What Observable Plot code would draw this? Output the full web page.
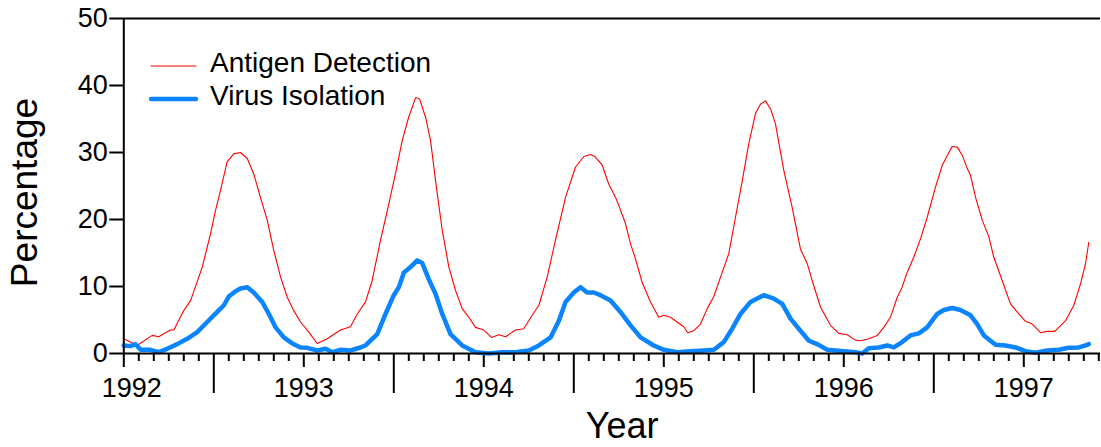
<!DOCTYPE html>
<html>
<head>
<meta charset="utf-8">
<script src="https://cdn.jsdelivr.net/npm/d3@7"></script>
<script src="https://cdn.jsdelivr.net/npm/@observablehq/plot@0.6"></script>
<style>
  html, body { margin: 0; padding: 0; background: #fff; }
  #wrap { position: relative; width: 1101px; height: 447px; overflow: hidden; }
  #legend { position: absolute; left: 0; top: 0; pointer-events: none; }
</style>
</head>
<body>
<div id="wrap"></div>
<script>
// ---- data ----
const yearLabels = [1992, 1993, 1994, 1995, 1996, 1997];
const yTicks = [0, 10, 20, 30, 40, 50];
const seriesNames = ["Antigen Detection", "Virus Isolation"];

const antigenYear = [1992.000,1992.074,1992.158,1992.194,1992.259,1992.278,1992.333,1992.371,1992.436,1992.482,1992.509,1992.537,1992.574,1992.611,1992.648,1992.686,1992.722,1992.759,1992.797,1992.833,1992.871,1992.908,1992.944,1992.982,1993.028,1993.074,1993.130,1993.204,1993.259,1993.297,1993.343,1993.380,1993.426,1993.472,1993.509,1993.547,1993.583,1993.621,1993.643,1993.676,1993.704,1993.732,1993.769,1993.806,1993.843,1993.880,1993.917,1993.954,1994.000,1994.043,1994.083,1994.121,1994.176,1994.222,1994.269,1994.306,1994.352,1994.398,1994.454,1994.509,1994.556,1994.593,1994.617,1994.658,1994.694,1994.732,1994.750,1994.787,1994.815,1994.843,1994.880,1994.926,1994.972,1995.000,1995.037,1995.074,1995.111,1995.133,1995.167,1995.204,1995.241,1995.278,1995.315,1995.361,1995.398,1995.436,1995.472,1995.509,1995.537,1995.565,1995.593,1995.620,1995.667,1995.713,1995.759,1995.797,1995.824,1995.871,1995.926,1995.972,1996.019,1996.065,1996.093,1996.139,1996.186,1996.222,1996.259,1996.297,1996.324,1996.352,1996.389,1996.426,1996.463,1996.509,1996.547,1996.580,1996.602,1996.630,1996.658,1996.686,1996.704,1996.732,1996.769,1996.806,1996.833,1996.880,1996.926,1996.963,1997.009,1997.047,1997.093,1997.130,1997.172,1997.232,1997.278,1997.315,1997.343,1997.361];
const antigenPct = [2.2,1.2,2.7,2.5,3.5,3.5,6.4,7.9,12.9,17.9,21.3,24.3,28.6,29.8,30.0,29.1,26.8,23.3,19.9,15.4,11.4,8.4,6.4,4.7,3.2,1.5,2.2,3.5,4.0,5.9,7.7,10.9,16.9,22.3,26.8,31.8,35.3,38.2,38.0,35.3,31.8,25.8,18.4,12.9,9.4,6.7,5.4,3.9,3.5,2.4,2.8,2.5,3.5,3.7,5.7,7.2,11.4,16.9,23.3,27.8,29.4,29.7,29.4,28.1,25.3,23.3,22.1,19.4,16.4,14.1,10.6,7.7,5.4,5.7,5.4,4.7,4.0,3.1,3.4,4.4,6.7,8.5,11.4,14.9,20.3,25.8,31.3,35.8,37.2,37.7,36.5,34.3,27.3,21.8,15.6,13.4,10.9,6.9,4.2,3.0,2.8,2.0,1.9,2.2,2.7,3.9,5.4,8.4,9.9,12.1,14.4,17.1,20.3,24.8,28.1,29.8,30.9,30.8,29.6,27.6,26.6,23.3,19.9,17.4,14.4,10.9,7.4,6.2,4.8,4.4,3.1,3.3,3.3,4.9,7.2,10.4,13.4,16.6];

const virusYear = [1992.000,1992.037,1992.065,1992.093,1992.148,1992.194,1992.241,1992.297,1992.352,1992.408,1992.463,1992.519,1992.556,1992.583,1992.621,1992.648,1992.686,1992.722,1992.769,1992.806,1992.843,1992.889,1992.936,1992.982,1993.019,1993.074,1993.121,1993.158,1993.204,1993.259,1993.315,1993.343,1993.408,1993.454,1993.500,1993.528,1993.556,1993.593,1993.630,1993.658,1993.694,1993.732,1993.769,1993.815,1993.880,1993.954,1994.028,1994.102,1994.176,1994.250,1994.306,1994.371,1994.417,1994.454,1994.500,1994.537,1994.574,1994.611,1994.648,1994.704,1994.759,1994.815,1994.871,1994.944,1995.000,1995.074,1995.148,1995.222,1995.278,1995.333,1995.380,1995.426,1995.482,1995.519,1995.556,1995.611,1995.658,1995.704,1995.759,1995.806,1995.852,1995.908,1996.000,1996.065,1996.102,1996.139,1996.194,1996.241,1996.278,1996.324,1996.370,1996.417,1996.463,1996.519,1996.556,1996.602,1996.648,1996.704,1996.741,1996.778,1996.843,1996.898,1996.954,1997.009,1997.065,1997.130,1997.194,1997.250,1997.306,1997.343,1997.361];
const virusPct = [1.2,1.1,1.4,0.55,0.55,0.2,0.7,1.4,2.2,3.2,4.7,6.2,7.2,8.5,9.3,9.7,9.9,9.1,7.7,5.9,3.9,2.4,1.5,0.9,0.85,0.45,0.7,0.2,0.55,0.45,0.9,1.2,2.9,5.9,8.7,9.9,12.1,12.9,13.9,13.5,11.1,8.9,5.9,2.9,1.2,0.2,0.0,0.2,0.2,0.45,1.2,2.4,4.9,7.7,9.1,9.9,9.1,9.1,8.7,7.9,6.2,4.2,2.4,1.2,0.55,0.2,0.35,0.45,0.55,1.7,3.7,5.9,7.7,8.2,8.7,8.2,7.4,5.2,3.4,1.9,1.4,0.55,0.35,0.2,0.0,0.8,0.9,1.2,0.9,1.7,2.7,3.0,3.9,5.9,6.5,6.8,6.5,5.7,4.4,2.7,1.3,1.2,0.9,0.35,0.1,0.45,0.55,0.85,0.9,1.2,1.4];

const redColor = "#ff0000";
const blueColor = "#0a84ff";

const antigen = antigenYear.map((t, i) => ({t, v: antigenPct[i]}));
const virus = virusYear.map((t, i) => ({t, v: virusPct[i]}));

// axis tick sets
const xMax = 1992 + (1100 - 123.3) / 180;
const monthTicks = d3.range(1, 66).filter(k => k % 6 !== 0).map(k => 1992 + k / 12);
const midYearTicks = yearLabels.slice(0, 5).map(y => y + 0.5);

const font = "'Liberation Sans', Arial, Helvetica, sans-serif";
const noLabel = () => "";

const chart = Plot.plot({
  width: 1101,
  height: 447,
  marginLeft: 123.3,
  marginRight: 1,
  marginTop: 18,
  marginBottom: 94,
  style: {fontFamily: font, fontSize: "27px", color: "#000", background: "#fff", overflow: "visible"},
  x: {type: "linear", domain: [1992, xMax], axis: null},
  y: {domain: [0, 50], axis: null},
  marks: [
    Plot.axisY(yTicks, {tickSize: 14, tickPadding: 2, strokeWidth: 2, fontSize: 27, label: null, tickFormat: d => String(d)}),
    Plot.axisX(monthTicks, {tickSize: 8, strokeWidth: 2, tickFormat: noLabel, label: null}),
    Plot.axisX(yearLabels, {tickSize: 14, strokeWidth: 2, tickFormat: noLabel, label: null}),
    Plot.axisX(midYearTicks, {tickSize: 40, strokeWidth: 2, tickFormat: noLabel, label: null}),
    Plot.text(yearLabels.slice(1), {x: d => d, frameAnchor: "bottom", lineAnchor: "middle", dy: 35, fontSize: 27, text: d => String(d)}),
    Plot.text(yearLabels.slice(0, 1), {x: d => d, frameAnchor: "bottom", lineAnchor: "middle", dy: 35, dx: 8, fontSize: 27, text: d => String(d)}),
    Plot.text(["Year"], {frameAnchor: "bottom", lineAnchor: "middle", textAnchor: "middle", dy: 73, dx: 10, fontSize: 36}),
    Plot.text(["Percentage"], {frameAnchor: "left", textAnchor: "middle", lineAnchor: "middle", dx: -99, dy: 6.5, rotate: -90, fontSize: 37}),
    Plot.line(antigen, {x: "t", y: "v", stroke: redColor, strokeWidth: 1.1}),
    Plot.line(virus, {x: "t", y: "v", stroke: blueColor, strokeWidth: 4.5, strokeLinejoin: "round", strokeLinecap: "round"}),
    Plot.ruleY([0], {strokeWidth: 2}),
    Plot.ruleY([50], {strokeWidth: 2}),
    Plot.ruleX([1992], {strokeWidth: 2})
  ]
});

const wrap = document.getElementById("wrap");
wrap.appendChild(chart);

// legend overlay
const ns = "http://www.w3.org/2000/svg";
const leg = document.createElementNS(ns, "svg");
leg.setAttribute("id", "legend");
leg.setAttribute("width", 1101);
leg.setAttribute("height", 447);
const legendItems = [
  {name: seriesNames[0], color: redColor, width: 1.1, y: 66},
  {name: seriesNames[1], color: blueColor, width: 4.5, y: 99}
];
legendItems.forEach(it => {
  const l = document.createElementNS(ns, "line");
  l.setAttribute("x1", 151); l.setAttribute("x2", 196);
  l.setAttribute("y1", it.y); l.setAttribute("y2", it.y);
  l.setAttribute("stroke", it.color);
  l.setAttribute("stroke-width", it.width);
  l.setAttribute("stroke-linecap", "round");
  leg.appendChild(l);
  const t = document.createElementNS(ns, "text");
  t.setAttribute("x", 210);
  t.setAttribute("y", it.y + 6);
  t.setAttribute("font-family", font);
  t.setAttribute("font-size", 28);
  t.setAttribute("fill", "#000");
  t.textContent = it.name;
  leg.appendChild(t);
});
wrap.appendChild(leg);
</script>
</body>
</html>
